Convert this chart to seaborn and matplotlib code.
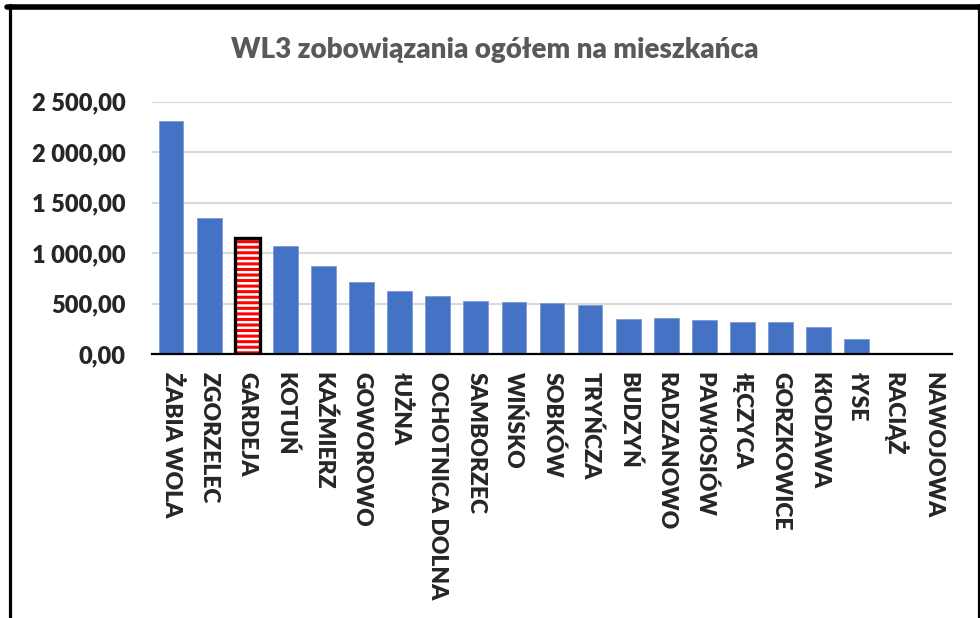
import matplotlib
matplotlib.use("Agg")
import matplotlib.pyplot as plt
import seaborn as sns
import pandas as pd
from matplotlib.patches import Rectangle
from matplotlib.lines import Line2D
from matplotlib.ticker import FuncFormatter, MultipleLocator

# ---- data ----
gminy = ["ŻABIA WOLA", "ZGORZELEC", "GARDEJA", "KOTUŃ", "KAŹMIERZ", "GOWOROWO",
         "łUŻNA", "OCHOTNICA DOLNA", "SAMBORZEC", "WIŃSKO", "SOBKÓW", "TRYŃCZA",
         "BUDZYŃ", "RADZANOWO", "PAWłOSIÓW", "łĘCZYCA", "GORZKOWICE", "KłODAWA",
         "łYSE", "RACIĄŻ", "NAWOJOWA"]
wartosci = [2305, 1346, 1150, 1071, 876, 711, 628, 572, 523, 516, 503, 486,
            350, 354, 337, 317, 317, 271, 152, 0, 0]
wyrozniona = "GARDEJA"
tytul = "WL3 zobowiązania ogółem na mieszkańca"

df = pd.DataFrame({"gmina": gminy, "wartosc": wartosci})

sns.set_theme(style="white")
plt.rcParams["font.family"] = ["Lato", "DejaVu Sans"]
plt.rcParams["hatch.linewidth"] = 2.2

W, H = 980, 618
fig = plt.figure(figsize=(W / 100, H / 100), dpi=100)
fig.patch.set_facecolor("white")
ax = fig.add_axes([152 / W, 1 - 354 / H, 800 / W, (354 - 101.7) / H])

sns.barplot(data=df, x="gmina", y="wartosc", color="#4472C4", saturation=1,
            width=0.65, ax=ax, edgecolor="#7f9bd6", linewidth=0.6)

# highlighted bar
idx = gminy.index(wyrozniona)
p = ax.patches[idx]
p.set_facecolor("white")
p.set_edgecolor("#ff0000")
p.set_hatch("---")
p.set_linewidth(0)
ax.add_patch(Rectangle(p.get_xy(), p.get_width(), p.get_height(), fill=False,
                       edgecolor="black", linewidth=2.4, zorder=p.get_zorder() + 1))

ax.set_ylim(0, 2500)
ax.yaxis.set_major_locator(MultipleLocator(500))
ax.yaxis.set_major_formatter(FuncFormatter(
    lambda v, _: f"{v:,.2f}".replace(",", " ").replace(".", ",")))
ax.grid(axis="y", color="#d9d9d9", linewidth=1.5)
ax.set_axisbelow(True)
for s in ["top", "right", "left"]:
    ax.spines[s].set_visible(False)
ax.spines["bottom"].set_color("black")
ax.spines["bottom"].set_linewidth(1.6)
ax.spines["bottom"].set_zorder(5)
ax.set_xlabel("")
ax.set_ylabel("")
ax.tick_params(axis="y", length=0, pad=19, labelsize=17)
ax.tick_params(axis="x", length=0, pad=13)
for lbl in ax.get_yticklabels():
    lbl.set_fontweight("heavy")
ax.set_xticks(range(len(gminy)))
ax.set_xticklabels(gminy, rotation=-90, fontsize=16.5, fontweight="heavy")

fig.text(0.505, 1 - 50 / H, tytul, ha="center", va="center", fontsize=20,
         fontweight="heavy", color="#595959")

# outer frame
fig.add_artist(Line2D([7 / W, 1], [1 - 6.5 / H, 1 - 6.5 / H], transform=fig.transFigure,
                      color="black", linewidth=4))
fig.add_artist(Line2D([9.5 / W, 9.5 / W], [0, 1 - 5 / H], transform=fig.transFigure,
                      color="black", linewidth=2.3))
fig.add_artist(Line2D([979 / W, 979 / W], [0, 1 - 5 / H], transform=fig.transFigure,
                      color="black", linewidth=2.3))

fig.savefig("out.png", dpi=100)
